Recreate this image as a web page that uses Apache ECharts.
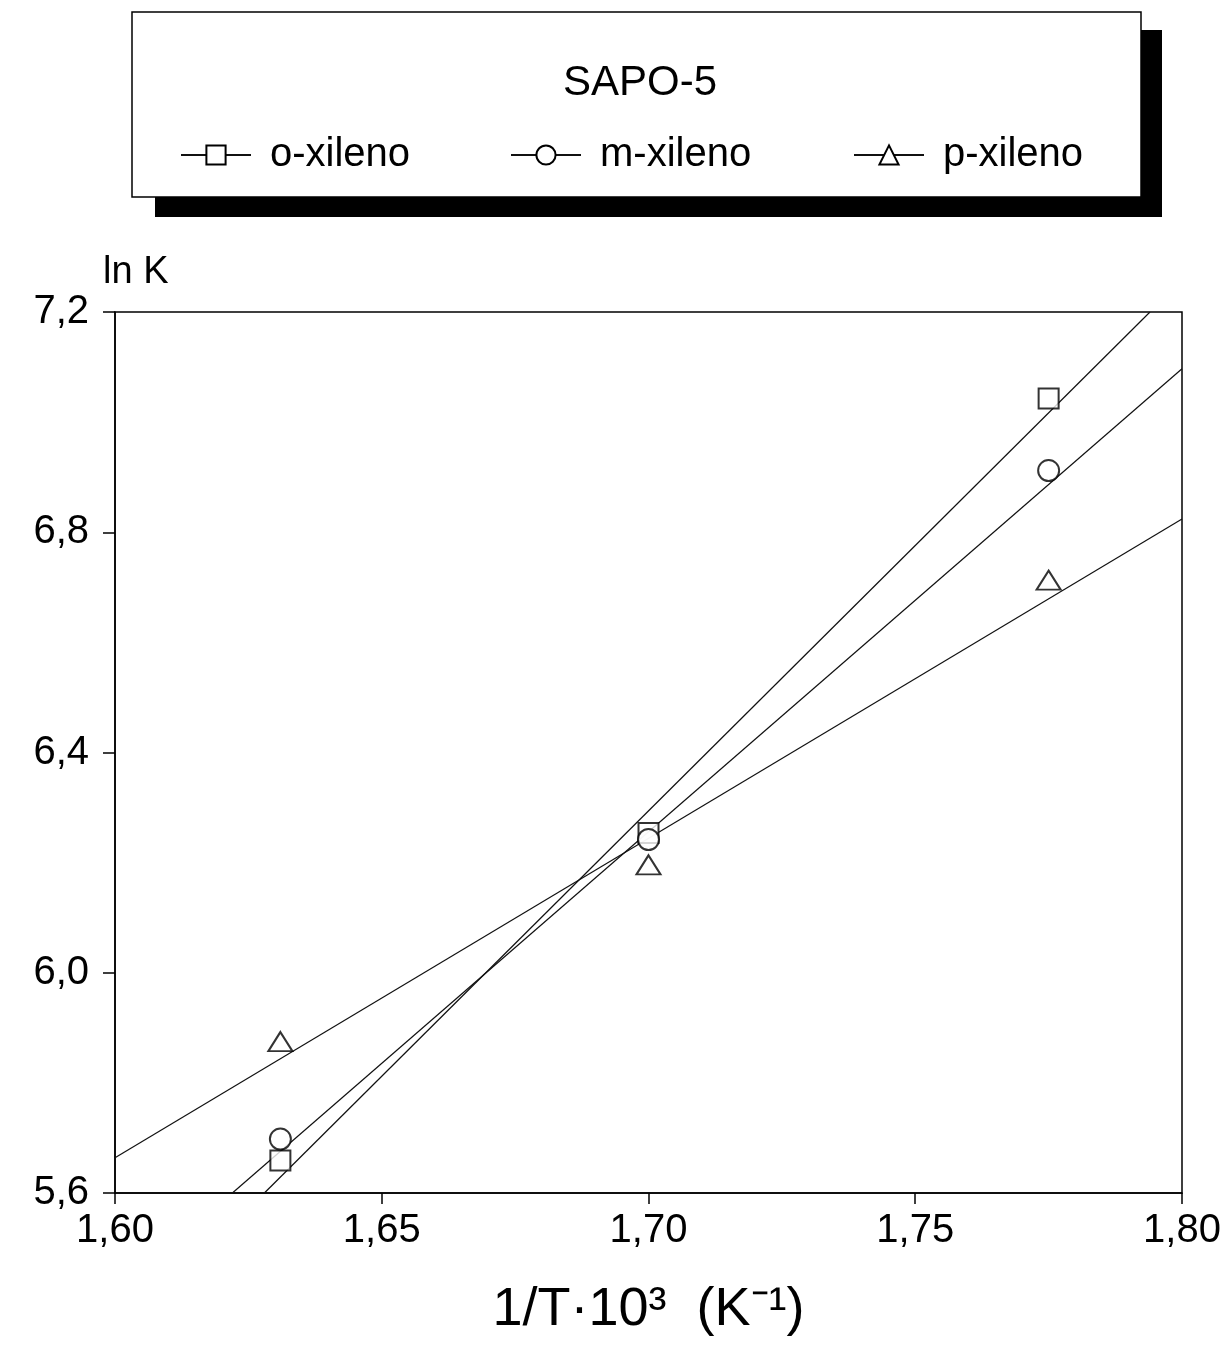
<!DOCTYPE html>
<html>
<head>
<meta charset="utf-8">
<script src="https://cdn.jsdelivr.net/npm/echarts@6/dist/echarts.min.js"></script>
<style>html,body{margin:0;padding:0;background:#fff}#c{width:1225px;height:1345px}</style>
</head>
<body>
<div id="c"></div>
<script>
// Data (x = 1/T·10^3, y = ln K)
var seriesNames = ['o-xileno', 'm-xileno', 'p-xileno'];
var oPoints = [[1.631, 5.659], [1.700, 6.254], [1.775, 7.043]];
var mPoints = [[1.631, 5.698], [1.700, 6.242], [1.775, 6.912]];
var pPoints = [[1.631, 5.875], [1.700, 6.196], [1.775, 6.713]];
// Fitted straight lines, endpoints
var oFit = [[1.628, 5.6], [1.794, 7.2]];
var mFit = [[1.622, 5.6], [1.800, 7.097]];
var pFit = [[1.600, 5.664], [1.800, 6.824]];
var xTicks = [1.60, 1.65, 1.70, 1.75, 1.80];
var yTicks = [5.6, 6.0, 6.4, 6.8, 7.2];
var titleText = 'SAPO-5';

var FONT = '"Liberation Sans", Arial, sans-serif';
var symbols = ['emptyRect', 'emptyCircle', 'emptyTriangle'];
var symbolSizes = [20, 21, [24, 19]];
var pts = [oPoints, mPoints, pPoints];
var fits = [oFit, mFit, pFit];

var chart = echarts.init(document.getElementById('c'), null, {renderer: 'canvas'});
var series = [];
seriesNames.forEach(function (n, i) {
  series.push({
    name: n, type: 'line', data: fits[i], symbol: symbols[i], symbolSize: 18,
    showSymbol: false, silent: true, z: 2,
    lineStyle: {color: '#111', width: 1.2},
    itemStyle: {color: '#000', borderColor: '#000', borderWidth: 1.5}
  });
});
seriesNames.forEach(function (n, i) {
  series.push({
    name: n, type: 'scatter', data: pts[i], symbol: symbols[i], symbolSize: symbolSizes[i], z: 3,
    itemStyle: {color: '#000', borderColor: '#000', borderWidth: 1.6}
  });
});

var legendLefts = [175, 505, 848];
var legends = seriesNames.map(function (n, i) {
  return {
    data: [n], left: legendLefts[i], top: 130, itemWidth: 70, itemHeight: 24, z: 10,
    selectedMode: false,
    textStyle: {fontFamily: FONT, fontSize: 40, color: '#000', padding: [0, 0, 0, 14]}
  };
});

chart.setOption({
  animation: false,
  backgroundColor: '#fff',
  title: {
    text: titleText, left: 635, top: 57, textAlign: 'center', z: 10,
    textStyle: {fontFamily: FONT, fontSize: 42, fontWeight: 'normal', color: '#000'}
  },
  legend: legends,
  graphic: [
    {type: 'rect', z: 1, shape: {x: 155, y: 30, width: 1007, height: 187}, style: {fill: '#000'}},
    {type: 'rect', z: 2, shape: {x: 132, y: 12, width: 1009, height: 185}, style: {fill: '#fff', stroke: '#000', lineWidth: 1.5}}
  ],
  grid: {left: 115, right: 43, top: 312, bottom: 152, show: true, borderColor: '#000', borderWidth: 1.5,
         backgroundColor: 'transparent', outerBoundsMode: 'none', containLabel: false},
  xAxis: {
    type: 'value', min: xTicks[0], max: xTicks[xTicks.length - 1], interval: 0.05,
    name: '1/T·10³  (K⁻¹)', nameLocation: 'middle', nameGap: 90,
    nameTextStyle: {fontFamily: FONT, fontSize: 54, color: '#000'},
    axisLine: {show: true, onZero: false, lineStyle: {color: '#000', width: 1.5}},
    axisTick: {show: true, inside: false, length: 11, lineStyle: {color: '#000', width: 1.5}},
    splitLine: {show: false},
    axisLabel: {
      margin: 18, color: '#000', fontFamily: FONT, fontSize: 40,
      formatter: function (v) { return v.toFixed(2).replace('.', ','); }
    }
  },
  yAxis: {
    type: 'value', min: yTicks[0], max: yTicks[yTicks.length - 1], interval: 0.4,
    name: 'ln K', nameLocation: 'end', nameGap: 20,
    nameTextStyle: {fontFamily: FONT, fontSize: 38, color: '#000', align: 'left', padding: [0, 0, 0, -12]},
    axisLine: {show: true, onZero: false, lineStyle: {color: '#000', width: 1.5}},
    axisTick: {show: true, inside: false, length: 12, lineStyle: {color: '#000', width: 1.5}},
    splitLine: {show: false},
    axisLabel: {
      margin: 26, color: '#000', fontFamily: FONT, fontSize: 40,
      formatter: function (v) { return v.toFixed(1).replace('.', ','); }
    }
  },
  series: series
});
</script>
</body>
</html>
